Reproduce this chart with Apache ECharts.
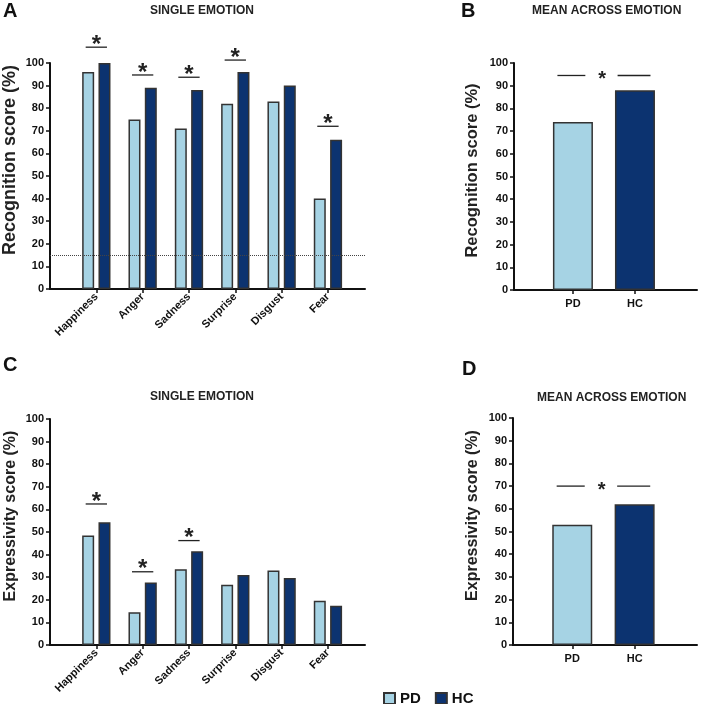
<!DOCTYPE html>
<html>
<head>
<meta charset="utf-8">
<script src="https://cdn.jsdelivr.net/npm/echarts@6/dist/echarts.min.js"></script>
<style>html,body{margin:0;padding:0;background:#fff}#main{width:701px;height:704px}</style>
</head>
<body>
<div id="main"></div>
<script>
// data
var emotions = ['Happiness', 'Anger', 'Sadness', 'Surprise', 'Disgust', 'Fear'];
var groups = ['PD', 'HC'];
var recogPD = [96, 75, 71, 82, 83, 40];
var recogHC = [100, 89, 88, 96, 90, 66];
var recogMean = [74, 88];
var exprPD = [48.5, 14.5, 33.5, 26.7, 33, 19.6];
var exprHC = [54.3, 27.7, 41.5, 31, 29.6, 17.4];
var exprMean = [53, 62];
// significance bars: [emotion index, height]
var recogSig = [[0, 107], [1, 94.7], [2, 93.7], [3, 101.3], [5, 72]];
var exprSig = [[0, 62.4], [1, 32.4], [2, 46.2]];
var recogMeanSig = 94.5;
var exprMeanSig = 70;
var chanceLevel = 15;

var PD_COLOR = '#a6d3e4';
var HC_COLOR = '#0c3370';
var FONT = 'Liberation Sans, Arial, sans-serif';
var INK = '#111';

var emoIdx = emotions.map(function (e, i) { return i; });
var grpIdx = groups.map(function (g, i) { return i; });

function pairs(arr) { return arr.map(function (v, i) { return [i, v]; }); }

function yAxisFor(gi, name, size, gap, shift) {
    return {
        type: 'value', gridIndex: gi, min: 0, max: 100, interval: 10,
        name: name, nameLocation: 'middle', nameGap: gap,
        nameTextStyle: { fontSize: size, fontWeight: 'bold', color: '#222', fontFamily: FONT, padding: [0, 0, 0, shift] },
        axisLine: { show: true, onZero: false, lineStyle: { color: INK, width: 2 } },
        axisTick: { show: true, length: 4, lineStyle: { color: INK, width: 1.5 } },
        axisLabel: { fontSize: 11, fontWeight: 'bold', color: INK, margin: 6, fontFamily: FONT },
        splitLine: { show: false }
    };
}

function emoAxis(gi) {
    return {
        type: 'value', gridIndex: gi, min: -1, max: 5.8,
        axisLine: { onZero: false, lineStyle: { color: INK, width: 2 } },
        axisTick: { show: true, length: 4, customValues: emoIdx, lineStyle: { color: INK, width: 1.5 } },
        axisLabel: {
            customValues: emoIdx, rotate: 45, fontSize: 11, fontWeight: 'bold', color: INK, margin: 6, fontFamily: FONT,
            formatter: function (v) { return emotions[v] || ''; }
        },
        splitLine: { show: false }
    };
}

function grpAxis(gi) {
    return {
        type: 'value', gridIndex: gi, min: -0.95, max: 2,
        axisLine: { onZero: false, lineStyle: { color: INK, width: 2 } },
        axisTick: { show: true, length: 4, customValues: grpIdx, lineStyle: { color: INK, width: 1.5 } },
        axisLabel: {
            customValues: grpIdx, fontSize: 11, fontWeight: 'bold', color: INK, margin: 8, fontFamily: FONT,
            formatter: function (v) { return groups[v] || ''; }
        },
        splitLine: { show: false }
    };
}

function barSeries(name, gi, data, color, width, gap) {
    return {
        name: name, type: 'bar', xAxisIndex: gi, yAxisIndex: gi,
        data: data, barWidth: width, barGap: gap,
        itemStyle: { color: color, borderColor: '#333', borderWidth: 1.5 }
    };
}

function sigSingle(params, api) {
    var x = api.value(0), y = api.value(1);
    var a = api.coord([x - 0.23, y]), b = api.coord([x + 0.23, y]);
    return {
        type: 'group', children: [
            { type: 'line', shape: { x1: a[0], y1: a[1], x2: b[0], y2: b[1] }, style: { stroke: '#222', lineWidth: 1.3 } },
            { type: 'text', x: (a[0] + b[0]) / 2, y: a[1] - 2, style: { text: '*', fill: '#222', font: 'bold 24px ' + FONT, align: 'center', verticalAlign: 'middle' } }
        ]
    };
}

function sigMean(params, api) {
    var y = api.value(0);
    var l1 = api.coord([-0.25, y]), l2 = api.coord([0.2, y]);
    var r1 = api.coord([0.72, y]), r2 = api.coord([1.25, y]);
    var s = api.coord([0.47, y]);
    return {
        type: 'group', children: [
            { type: 'line', shape: { x1: l1[0], y1: l1[1], x2: l2[0], y2: l2[1] }, style: { stroke: '#222', lineWidth: 1.3 } },
            { type: 'line', shape: { x1: r1[0], y1: r1[1], x2: r2[0], y2: r2[1] }, style: { stroke: '#222', lineWidth: 1.3 } },
            { type: 'text', x: s[0], y: s[1] + 4, style: { text: '*', fill: '#222', font: 'bold 20px ' + FONT, align: 'center', verticalAlign: 'middle' } }
        ]
    };
}

var titleStyle = { fontSize: 12, fontWeight: 'bold', color: '#222', fontFamily: FONT };
var letterStyle = { fontSize: 20, fontWeight: 'bold', color: INK, fontFamily: FONT };

var myChart = echarts.init(document.getElementById('main'));
var option = {
    animation: false,
    backgroundColor: '#fff',
    title: [
        { text: 'A', left: 3, top: 1, padding: 0, textStyle: letterStyle },
        { text: 'B', left: 461, top: 1, padding: 0, textStyle: letterStyle },
        { text: 'C', left: 3, top: 355, padding: 0, textStyle: letterStyle },
        { text: 'D', left: 462, top: 359, padding: 0, textStyle: letterStyle },
        { text: 'SINGLE EMOTION', left: 150, top: 5, padding: 0, textStyle: titleStyle },
        { text: 'MEAN ACROSS EMOTION', left: 532, top: 5, padding: 0, textStyle: titleStyle },
        { text: 'SINGLE EMOTION', left: 150, top: 391, padding: 0, textStyle: titleStyle },
        { text: 'MEAN ACROSS EMOTION', left: 537, top: 392, padding: 0, textStyle: titleStyle }
    ],
    legend: {
        data: groups, left: 378, top: 686, icon: 'rect', itemWidth: 11, itemHeight: 11, itemGap: 14,
        selectedMode: false, textStyle: { fontSize: 15, fontWeight: 'bold', color: INK, fontFamily: FONT }
    },
    grid: [
        { left: 50, top: 63, width: 315, height: 226 },
        { left: 514, top: 63, width: 183, height: 227 },
        { left: 50, top: 419, width: 315, height: 226 },
        { left: 513, top: 418, width: 184, height: 227 }
    ],
    xAxis: [emoAxis(0), grpAxis(1), emoAxis(2), grpAxis(3)],
    yAxis: [
        yAxisFor(0, 'Recognition score (%)', 18, 31, 32),
        yAxisFor(1, 'Recognition score (%)', 16.5, 33, 12),
        yAxisFor(2, 'Expressivity score (%)', 16, 31, 32),
        yAxisFor(3, 'Expressivity score (%)', 16, 32, 32)
    ],
    series: [
        (function () {
            var s = barSeries('PD', 0, pairs(recogPD), PD_COLOR, 12, '36%');
            s.markLine = {
                silent: true, symbol: 'none', label: { show: false },
                lineStyle: { type: 'dotted', color: '#444', width: 1 },
                data: [{ yAxis: chanceLevel }]
            };
            return s;
        })(),
        barSeries('HC', 0, pairs(recogHC), HC_COLOR, 12, '36%'),
        barSeries('PD', 1, [[0, recogMean[0]]], PD_COLOR, 40, '-100%'),
        barSeries('HC', 1, [[1, recogMean[1]]], HC_COLOR, 40, '-100%'),
        barSeries('PD', 2, pairs(exprPD), PD_COLOR, 12, '36%'),
        barSeries('HC', 2, pairs(exprHC), HC_COLOR, 12, '36%'),
        barSeries('PD', 3, [[0, exprMean[0]]], PD_COLOR, 40, '-100%'),
        barSeries('HC', 3, [[1, exprMean[1]]], HC_COLOR, 40, '-100%'),
        { type: 'custom', xAxisIndex: 0, yAxisIndex: 0, data: recogSig, renderItem: sigSingle, clip: false, silent: true, z: 5 },
        { type: 'custom', xAxisIndex: 2, yAxisIndex: 2, data: exprSig, renderItem: sigSingle, clip: false, silent: true, z: 5 },
        { type: 'custom', xAxisIndex: 1, yAxisIndex: 1, data: [[recogMeanSig]], renderItem: sigMean, clip: false, silent: true, z: 5 },
        { type: 'custom', xAxisIndex: 3, yAxisIndex: 3, data: [[exprMeanSig]], renderItem: sigMean, clip: false, silent: true, z: 5 }
    ]
};
myChart.setOption(option);
</script>
</body>
</html>
